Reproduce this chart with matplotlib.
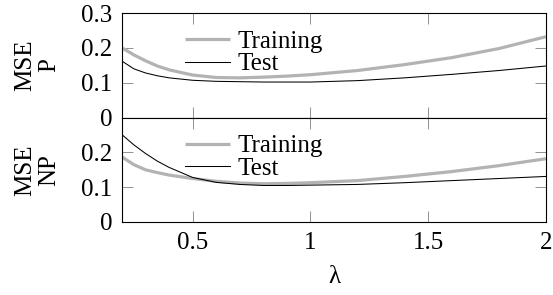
import numpy as np
import matplotlib
matplotlib.use("Agg")
import matplotlib.pyplot as plt
from matplotlib.ticker import FuncFormatter

plt.rcParams['font.family'] = ['Liberation Serif', 'DejaVu Serif']
plt.rcParams['mathtext.fontset'] = 'stix'

# lambda values
lam = [0.2, 0.25, 0.3, 0.35, 0.4, 0.5, 0.6, 0.7, 0.8, 0.9, 1.0, 1.2, 1.4, 1.6, 1.8, 2.0]

# MSE P
p_train = [0.200, 0.180, 0.163, 0.148, 0.137, 0.122, 0.115, 0.114, 0.116, 0.119, 0.123,
           0.135, 0.152, 0.172, 0.198, 0.232]
p_test = [0.162, 0.140, 0.128, 0.120, 0.114, 0.107, 0.104, 0.103, 0.102, 0.102, 0.102,
          0.106, 0.114, 0.124, 0.135, 0.148]

# MSE NP
np_train = [0.187, 0.165, 0.150, 0.142, 0.135, 0.125, 0.117, 0.112, 0.110, 0.111, 0.113,
            0.119, 0.131, 0.145, 0.162, 0.182]
np_test = [0.251, 0.222, 0.197, 0.175, 0.157, 0.128, 0.114, 0.108, 0.105, 0.105, 0.106,
           0.108, 0.113, 0.119, 0.125, 0.131]

xticks = [0.5, 1, 1.5, 2]
fmt = FuncFormatter(lambda v, pos: '%g' % v)
fs = 18

fig = plt.figure(figsize=(5.53, 2.95), dpi=100)
ax1 = fig.add_axes([0.2206, 0.6014, 0.7667, 0.3545])
ax2 = fig.add_axes([0.2206, 0.2475, 0.7667, 0.3536])

panels = [(ax1, p_train, p_test, 'MSE\nP', [0, 0.1, 0.2, 0.3]),
          (ax2, np_train, np_test, 'MSE\nNP', [0, 0.1, 0.2])]

for ax, tr, te, lab, yt in panels:
    ax.plot(lam, tr, color='#b3b3b3', lw=2.3, label='Training', solid_capstyle='butt')
    ax.plot(lam, te, color='black', lw=0.75, label='Test')
    ax.set_xlim(0.2, 2)
    ax.set_ylim(0, 0.3)
    ax.set_xticks(xticks)
    ax.set_yticks(yt)
    ax.yaxis.set_major_formatter(fmt)
    ax.xaxis.set_major_formatter(fmt)
    ax.tick_params(direction='in', length=8, width=0.6, color='#808080',
                   top=True, right=True, labelsize=fs, pad=7)
    for s in ax.spines.values():
        s.set_linewidth(0.8)
    ax.set_ylabel(lab, fontsize=fs, linespacing=1.1, labelpad=15)
    ax.legend(loc='upper left', bbox_to_anchor=(0.149, 0.835), frameon=False,
              fontsize=fs, handlelength=1.8, handletextpad=0.3, labelspacing=0.0,
              borderpad=0, borderaxespad=0)

ax1.tick_params(labelbottom=False)
ax2.set_xlabel('λ', fontsize=fs, labelpad=9)
fig.align_ylabels([ax1, ax2])

fig.savefig('out.png', dpi=100)
